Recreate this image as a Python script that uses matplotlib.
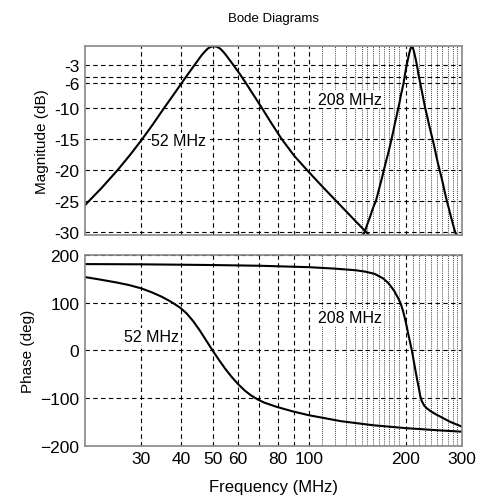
import matplotlib
matplotlib.use('Agg')
import matplotlib.pyplot as plt
from matplotlib.ticker import FixedLocator, NullFormatter

plt.rcParams['font.family'] = ['Liberation Sans', 'DejaVu Sans']

# magnitude, 52 MHz resonance
mag52_f = [20, 22.56, 25.31, 27.63, 30.0, 32.61, 35.3, 37.6, 40.0, 42.0, 43.98, 45.01, 46.0,
           47.13, 48.23, 49.35, 50.5, 51.68, 52.88, 54.11, 55.37, 56.66, 57.98, 60.72, 63.58,
           67.32, 71.29, 76.39, 81.86, 89.8, 99.63, 110.5, 124.0, 139.1, 153.6, 159.7]
mag52_db = [-25.7, -22.9, -20, -17.6, -15.2, -12.6, -10, -8, -6, -4.45, -3, -2.3, -1.6,
            -0.95, -0.42, -0.1, 0, -0.1, -0.42, -0.95, -1.6, -2.3, -3, -4.45, -6, -8, -10,
            -12.5, -14.9, -17.7, -20.3, -22.8, -25.5, -28.2, -30.5, -31.4]

# magnitude, 208 MHz resonance
mag208_f = [145, 149, 152, 155, 158, 161.5, 164, 166.5, 169, 171, 173.5, 176, 178.5, 180.7,
            183, 185, 187.5, 189.6, 191.5, 193, 195, 196.9, 198, 199, 200.3, 201.5, 203, 204,
            205.5, 206.5, 207.8, 209, 210.2, 211.5, 212.5, 214, 215.3, 216.6, 218, 219,
            220.5, 222, 224, 226, 228, 230, 233, 236, 239, 242.5, 245.5, 248.5, 251.5, 255,
            258.5, 262, 265, 268.7, 272.5, 276.5, 280.5, 285, 292]
mag208_db = [-31, -30, -28.7, -27.5, -26.2, -25, -23.7, -22.4, -21.1, -20, -18.7, -17.5,
             -16.2, -15, -13.7, -12.5, -11.2, -10, -9, -8, -7, -6, -5.2, -4.5, -3.7, -3, -2.2,
             -1.7, -1, -0.6, -0.2, 0, -0.2, -0.6, -1, -1.7, -2.3, -3, -3.8, -4.5, -5.2, -6,
             -7, -8, -9, -10, -11.2, -12.5, -13.7, -15, -16.2, -17.5, -18.7, -20, -21.2,
             -22.5, -23.7, -25, -26.2, -27.5, -28.7, -30, -31]

# phase, 52 MHz
ph52_f = [20, 22.33, 25.06, 27.47, 29.99, 32.28, 34.59, 36.22, 37.93, 39.72, 41.59, 43.55,
          45.6, 47.75, 50, 52.36, 54.83, 57.41, 60.12, 62.95, 65.92, 69.02, 72.28, 79.24,
          88.91, 99.76, 125.6, 158.1, 199.1, 250.6, 300]
ph52_deg = [153.8, 148.5, 142.5, 137, 130, 122, 113, 106, 98, 89, 77, 61, 42, 21, 0, -20,
            -39, -56, -71, -84, -94.4, -102.6, -109.2, -118.4, -127.9, -135.9, -148.4,
            -156.9, -162.9, -167.4, -170.5]

# phase, 208 MHz
ph208_f = [20, 30, 50, 70, 100, 120, 140, 150, 160, 170, 176.1, 180, 184.4, 190, 193, 196.3,
           200, 204.2, 209, 212.9, 216.9, 219.9, 221.9, 224.4, 228, 232.7, 240, 248.3, 259.9,
           275.5, 300]
ph208_deg = [181, 180.5, 179, 177.5, 174.5, 171.5, 168, 165, 160.5, 151, 142, 134, 124, 108,
             98, 82, 60, 31, 0, -30, -60, -80, -95, -106, -115, -121.5, -128, -134, -141,
             -150, -160]

xticks = [30, 40, 50, 60, 70, 80, 90, 100, 200, 300]
xlabels = ['30', '40', '50', '60', '', '80', '', '100', '200', '300']
xminor = [110, 120, 130, 139, 146, 152, 158, 165, 171, 177.5, 184, 190.5,
          210, 220, 230, 240, 250, 260, 270, 280, 290]
mag_ticks = [-30, -25, -20, -15, -10, -6, -5, -3]
mag_labels = ['-30', '-25', '-20', '-15', '-10', '-6', '', '-3']
ph_ticks = [-200, -100, 0, 100, 200]

fig = plt.figure(figsize=(4.85, 5.02), dpi=100)
ax1 = fig.add_axes([0.175, 0.530, 0.778, 0.376])
ax2 = fig.add_axes([0.175, 0.110, 0.778, 0.380])


def style_axes(ax):
    ax.set_xscale('log')
    ax.set_xlim(20, 300)
    ax.xaxis.set_major_locator(FixedLocator(xticks))
    ax.xaxis.set_minor_locator(FixedLocator(xminor))
    ax.xaxis.set_minor_formatter(NullFormatter())
    ax.grid(True, which='major', color='black', linestyle=(0, (4, 3)), linewidth=0.8)
    ax.grid(True, which='minor', axis='x', color='black', linestyle=(0, (1, 1.5)),
            linewidth=0.6)
    ax.tick_params(which='both', length=0, labelsize=12.5, pad=4)
    for sp in ax.spines.values():
        sp.set_color('#888888')
        sp.set_linewidth(1.2)


style_axes(ax1)
ax1.plot(mag52_f, mag52_db, color='black', lw=1.5)
ax1.plot(mag208_f, mag208_db, color='black', lw=1.5)
ax1.set_ylim(-30.5, 0)
ax1.set_yticks(mag_ticks)
ax1.set_yticklabels(mag_labels)
ax1.set_xticklabels([])
ax1.set_ylabel('Magnitude (dB)', fontsize=11)
ax1.set_title('Bode Diagrams', fontsize=9.5, pad=18)
box = dict(facecolor='white', edgecolor='none', pad=0.5)
ax1.text(32.2, -15.3, '52 MHz', fontsize=11.5, ha='left', va='center', bbox=box)
ax1.text(106.4, -8.6, '208 MHz', fontsize=11.5, ha='left', va='center', bbox=box)

style_axes(ax2)
ax2.plot(ph52_f, ph52_deg, color='black', lw=1.5)
ax2.plot(ph208_f, ph208_deg, color='black', lw=1.5)
ax2.set_ylim(-200, 200)
ax2.set_yticks(ph_ticks)
ax2.set_xticklabels(xlabels)
ax2.set_ylabel('Phase (deg)', fontsize=11)
ax2.set_xlabel('Frequency (MHz)', fontsize=12, labelpad=9)
ax2.text(26.4, 29, '52 MHz', fontsize=11.5, ha='left', va='center', bbox=box)
ax2.text(106.4, 69, '208 MHz', fontsize=11.5, ha='left', va='center', bbox=box)

fig.savefig('out.png', dpi=100)
